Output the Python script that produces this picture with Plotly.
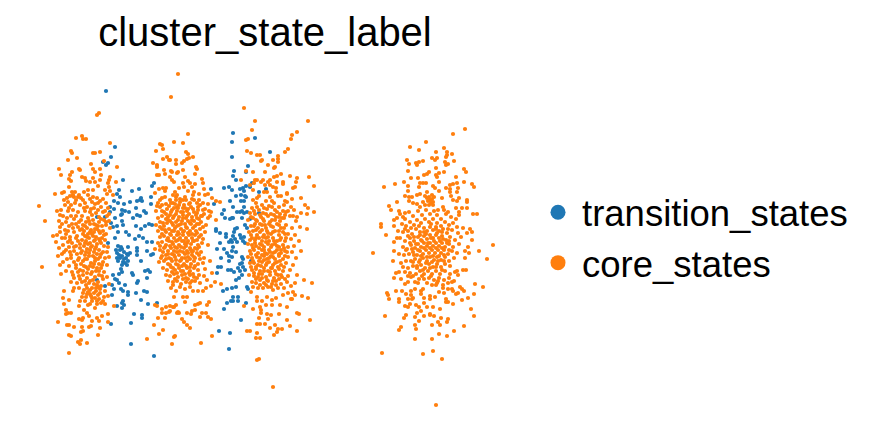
import plotly.graph_objects as go

LABELS = ["transition_states", "core_states"]
COLORS = ["#1f77b4", "#ff7f0e"]
CHART_TITLE = "cluster_state_label"

# Embedding coordinates of each cell, grouped by state and by lobe of the embedding.
transition_left = [(106,91),(115,147),(111,157),(103,162),(108,163),(106,165),(123,180),(119,190),(117,194),(120,197),(132,191),(139,189),(154,183),(152,186),(151,197),(151,204),(130,202),(124,204),(118,203),(114,201),(137,201),(140,200),(142,201),(141,198),(136,208),(144,211),(129,212),(125,211),(122,210),(110,207),(110,212),(114,209),(137,215),(140,216),(146,213),(133,218),(122,214),(121,215),(115,218),(105,217),(122,221),(111,223),(123,225),(117,226),(136,226),(145,226),(149,224),(152,225),(141,229),(113,227),(97,217),(118,232),(126,232),(129,235),(115,238),(108,243),(135,239),(139,236),(143,238),(147,242),(152,242),(118,246),(128,247),(122,249),(137,248),(137,251),(147,251),(153,254),(151,255),(117,253),(119,255),(127,254),(130,253),(128,255),(137,255),(117,258),(120,258),(128,261),(141,261),(123,262),(125,263),(122,265),(127,265),(121,269),(122,272),(145,271),(148,270),(150,272),(132,273),(133,275),(113,275),(119,274),(115,279),(147,278),(117,280),(138,281),(137,283),(97,280),(119,283),(125,285),(105,286),(112,285),(114,289),(121,289),(123,291),(144,291),(128,292),(136,293),(147,292),(112,295),(128,295),(141,300),(148,304),(157,303),(123,301),(122,303),(124,305),(117,306),(122,308),(134,314),(142,315),(142,318),(111,324),(131,323),(131,344),(154,356),(120,250),(122,256),(124,252),(118,261),(126,258),(116,250),(121,247),(124,259)]
transition_mid = [(233,133),(232,142),(255,138),(232,157),(270,152),(248,166),(234,171),(233,176),(246,172),(236,180),(252,183),(246,186),(250,187),(243,188),(240,189),(244,191),(211,189),(224,188),(229,187),(232,190),(236,196),(241,195),(245,196),(246,197),(259,192),(266,189),(214,204),(230,201),(241,201),(244,201),(233,207),(244,207),(224,210),(222,214),(237,212),(240,212),(242,211),(247,212),(244,213),(259,213),(225,218),(230,219),(232,218),(233,218),(242,218),(250,219),(245,225),(237,228),(235,229),(247,228),(216,229),(216,231),(220,233),(234,232),(226,237),(240,235),(244,237),(231,240),(229,242),(220,243),(232,242),(237,242),(245,243),(233,247),(217,249),(224,249),(232,251),(236,252),(227,253),(229,256),(232,257),(221,258),(242,257),(243,259),(229,261),(251,261),(240,264),(221,267),(218,267),(243,267),(245,270),(228,270),(231,270),(234,272),(217,273),(242,275),(239,278),(236,280),(247,287),(248,289),(236,287),(227,289),(232,288),(223,291),(233,297),(238,297),(233,301),(238,301),(231,301),(227,303),(246,303),(224,309),(241,320),(219,331),(230,333),(229,349),(241,238),(243,241),(226,234),(233,236),(235,239),(238,268),(240,271),(242,263)]

core_left = [(178,74),(171,97),(97,115),(99,113),(82,136),(76,138),(83,139),(86,139),(110,143),(71,151),(72,153),(93,153),(95,153),(100,152),(68,160),(77,158),(104,161),(91,164),(117,167),(59,169),(79,169),(80,170),(93,169),(100,169),(72,172),(70,175),(61,175),(95,172),(101,175),(82,177),(69,179),(71,181),(85,178),(86,181),(93,178),(90,182),(100,180),(95,182),(110,177),(109,180),(108,183),(116,182),(69,187),(98,186),(93,190),(88,190),(84,192),(72,192),(75,192),(64,192),(55,194),(79,195),(73,196),(74,197),(105,190),(109,187),(110,191),(107,194),(113,195),(39,206),(45,221),(53,236),(42,267),(58,322),(69,353),(87,343),(98,335),(100,328),(108,314),(108,322),(102,316),(69,335),(71,336),(78,342),(80,344),(81,340),(67,325),(69,325),(74,327),(82,327),(81,332),(83,331),(89,327),(91,326),(79,319),(82,320),(83,318),(92,321),(97,318),(99,321),(66,310),(66,314),(68,313),(71,313),(84,310),(87,313),(89,316),(79,306),(88,305),(90,304),(95,308),(97,304),(101,303),(105,304),(114,306),(63,298),(69,300),(64,304),(80,301),(82,297),(64,291),(73,291),(79,288),
(57,211),(62,193),(67,198),(65,205),(61,210),(70,196),(73,195),(78,197),(71,205),(68,211),(75,203),(80,205),(83,200),(88,195),(93,197),(97,198),(98,203),(92,202),(87,207),(94,208),(90,212),(103,199),(106,203),(101,207),(108,208),(63,216),(59,221),(66,222),(71,216),(74,219),(78,212),(82,216),(85,211),(88,218),(92,215),(96,213),(99,217),(103,212),(107,216),(104,220),(109,221),(60,227),(65,230),(69,226),(73,228),(76,224),(79,222),(83,225),(86,222),(90,224),(93,220),(96,225),(99,222),(102,226),(106,225),(110,228),(57,235),(62,238),(66,234),(70,237),(74,232),(77,236),(80,230),(84,231),(87,228),(88,234),(91,230),(94,232),(97,229),(100,233),(103,231),(106,234),(93,236),(89,238),(85,236),(96,237),(99,239),(102,238),(105,240),(82,240),(78,241),(72,243),(68,242),(63,245),(59,248),(56,242),(86,241),(90,243),(94,241),(97,244),(101,243),(104,246),(108,247),(76,246),(80,248),(84,246),(87,249),(91,247),(95,249),(99,250),(103,252),(107,252),(66,250),(70,252),(74,251),(62,254),(58,256),(77,254),(81,253),(85,255),(89,253),(93,256),(97,254),(100,257),(105,258),(109,257),(63,262),(67,259),(71,258),(60,265),(69,266),(74,262),(78,260),(83,261),(87,259),(91,263),(95,261),(99,264),(103,262),(107,265),(72,272),(76,268),(80,270),(84,266),(88,269),(93,267),(96,271),(101,268),(104,272),(66,271),(61,274),(74,278),(79,276),(83,275),(87,278),(91,274),(95,277),(99,275),(103,279),(107,277),(71,282),(77,283),(82,282),(86,285),(90,281),(94,284),(98,282),(101,286),(105,291),(109,284),(74,288),(84,290),(88,292),(92,288),(96,291),(100,293),(104,297),(86,297),(91,296),(95,298),(99,299),(103,301),(92,301),(85,301),(108,296),(96,288),(90,294),(98,287)]
core_left_dense = [(64,200),(68,202),(76,200),(81,198),(85,203),(90,199),(95,204),(100,201),(105,211),(109,214),(69,208),(73,210),(84,208),(91,209),(98,210),(60,215),(67,218),(76,216),(81,220),(85,226),(89,221),(94,224),(98,226),(101,219),(106,222),(62,224),(68,231),(72,224),(78,227),(82,229),(90,232),(95,229),(99,231),(104,235),(92,234),(87,237),(83,234),(95,240),(100,241),(76,238),(70,240),(65,238),(60,232),(88,244),(92,246),(96,247),(85,243),(80,244),(74,247),(69,247),(82,251),(86,252),(90,250),(94,252),(101,254),(64,252),(71,255),(79,258),(85,259),(89,256),(95,258),(98,259),(102,265),(76,265),(81,264),(86,267),(90,266),(94,264),(97,268),(78,272),(83,271),(87,273),(92,272),(99,271),(102,276),(73,275),(80,279),(85,281),(89,283),(93,280),(97,285),(100,289),(87,288),(83,293),(90,290),(94,293),(98,295),(87,294),(92,298),(97,301)]

core_mid = [(147,339),(154,325),(159,334),(163,330),(175,336),(172,344),(158,318),(165,318),(162,313),(166,313),(169,312),(162,309),(166,307),(170,306),(174,307),(178,312),(155,305),(157,306),(160,144),(162,145),(174,142),(163,149),(156,151),(167,157),(163,159),(169,160),(176,160),(153,163),(157,165),(157,167),(176,164),(164,170),(171,171),(178,172),(157,175),(159,175),(165,174),(170,177),(172,180),(174,182),(159,189),(163,188),(166,188),(165,191),(155,193),(179,188),(175,192),(173,195),(177,195),
(188,134),(183,143),(186,152),(188,154),(189,158),(193,157),(184,161),(187,159),(182,163),(170,160),(196,167),(197,169),(183,170),(177,173),(172,172),(195,174),(185,177),(202,179),(203,183),(183,183),(188,181),(190,183),(195,184),(184,187),(192,187),(204,189),(194,192),(188,191),(199,194),(205,195),(208,194),(193,195),(185,197),(212,198),(216,201),(220,202),(208,204),(199,200),(194,200),(183,200),(176,197),(180,202),(190,203),(198,207),(203,210),(209,211),(211,212),(216,220),(202,216),(197,213),(208,218),(185,208),(177,207),(173,203),
(211,319),(208,317),(206,313),(202,313),(200,317),(195,310),(192,311),(187,313),(191,314),(182,319),(184,322),(187,325),(190,328),(179,313),(177,313),(170,311),(173,307),(176,305),(185,302),(187,297),(183,297),(174,297),(198,304),(200,303),(207,305),(209,302),(195,305),(193,291),(198,291),(203,291),(206,288),(211,286),(215,282),(221,284),(190,287),(185,289),(180,287),(176,291),(171,288),(173,285),(201,343),(212,336),(174,337),
(158,203),(162,198),(166,204),(170,200),(156,211),(160,207),(164,212),(169,206),(172,210),(175,204),(178,208),(181,212),(184,205),(187,211),(191,207),(194,212),(200,205),(205,209),(158,218),(162,216),(166,219),(170,215),(173,218),(176,214),(179,217),(183,215),(186,218),(189,214),(192,217),(196,215),(199,219),(204,214),(210,216),(156,225),(160,222),(164,226),(167,223),(170,221),(173,225),(176,222),(179,225),(182,221),(185,224),(188,221),(191,224),(194,221),(197,224),(201,222),(206,225),(158,231),(162,229),(166,232),(169,229),(172,231),(175,228),(178,232),(181,229),(184,231),(187,228),(190,231),(193,228),(196,231),(200,229),(205,232),(160,237),(164,236),(168,238),(171,235),(174,238),(177,235),(180,238),(183,235),(186,238),(189,235),(192,238),(195,235),(199,237),(203,239),(158,243),(162,242),(166,245),(169,241),(173,244),(176,241),(179,245),(182,241),(185,244),(188,241),(191,244),(194,241),(198,245),(202,243),(208,245),(155,249),(160,250),(164,248),(168,251),(171,248),(174,251),(177,248),(180,251),(184,248),(187,251),(190,248),(193,251),(197,249),(201,252),(162,256),(166,255),(169,258),(172,254),(175,257),(179,255),(182,258),(185,254),(188,257),(192,255),(195,258),(199,255),(204,258),(159,262),(164,261),(168,264),(172,261),(176,264),(180,261),(184,264),(187,261),(191,264),(194,261),(198,264),(203,263),(210,261),(163,268),(167,270),(171,267),(175,270),(179,268),(183,271),(187,268),(190,271),(194,268),(198,270),(205,269),(166,275),(170,276),(174,274),(178,277),(182,275),(186,278),(190,275),(194,277),(199,275),(204,276),(212,273),(168,281),(173,282),(177,281),(181,284),(186,282),(190,283),(195,281),(200,283),(207,280)]
core_mid_dense = [(160,200),(165,197),(171,203),(176,200),(180,199),(186,200),(192,199),(197,203),(203,203),(162,205),(167,209),(174,208),(179,205),(183,208),(189,204),(193,209),(198,210),(157,206),(162,211),(166,214),(171,212),(177,211),(183,212),(188,209),(168,217),(174,216),(178,220),(183,218),(187,216),(192,220),(197,218),(201,216),(163,223),(168,220),(172,223),(177,226),(181,224),(186,227),(190,223),(195,226),(199,224),(203,227),(160,227),(165,230),(170,234),(174,231),(179,234),(183,232),(188,233),(192,234),(197,233),(201,235),(162,234),(167,240),(172,242),(178,240),(184,241),(187,243),(193,241),(197,240),(160,246),(165,247),(170,246),(175,247),(181,247),(186,246),(191,250),(195,248),(199,247),(163,252),(168,254),(174,255),(177,252),(183,252),(188,253),(192,252),(197,253),(161,258),(166,259),(171,259),(176,260),(181,260),(185,258),(190,259),(194,257),(200,259),(170,265),(173,268),(178,265),(182,266),(186,266),(190,267),(195,266),(172,272),(177,273),(181,271),(185,274),(189,273),(193,274),(175,279),(183,279),(188,279),(192,281),(197,278)]

core_right = [(244,108),(255,121),(308,121),(252,130),(297,132),(292,135),(291,139),(246,140),(248,139),(288,149),(285,152),(247,151),(251,153),(257,155),(260,155),(278,156),(278,159),(273,160),(278,162),(261,161),(262,160),(268,165),(275,167),(274,168),(246,171),(253,172),(265,172),(274,177),(277,176),(281,174),(290,176),(309,177),(297,178),(296,182),(314,186),(241,180),(255,180),(257,180),(250,185),(254,183),(261,182),(263,180),(268,182),(270,180),(265,185),(270,185),(277,182),(283,182),(283,184),(273,187),(276,188),(293,188),(295,187),(253,190),(264,192),(267,192),(276,192),(287,193),(287,194),(278,196),(281,196),(301,198),(292,199),(259,196),(257,198),(253,200),(270,197),(272,201),(285,201),(287,202),(305,205),(308,208),(314,212),(301,213),(307,214),(297,217),(293,216),(288,211),(294,210),(307,229),
(273,387),(257,360),(259,359),(247,331),(250,331),(256,338),(260,338),(257,333),(257,324),(260,324),(265,324),(270,328),(275,325),(278,329),(282,329),(277,332),(274,335),(290,326),(297,331),(310,320),(287,320),(259,318),(261,313),(267,314),(271,315),(268,319),(279,314),(297,313),(299,314),(253,309),(260,307),(261,310),(266,305),(272,305),(280,305),(287,307),(257,297),(257,301),(262,301),(267,297),(272,300),(276,298),(291,299),(292,299),(283,295),(288,293),(293,292),(295,295),(302,296),(308,298),(244,306),(251,292),(253,287),
(252,208),(256,203),(262,205),(266,201),(269,206),(274,203),(279,207),(284,205),(250,213),(255,214),(259,210),(263,213),(267,209),(271,214),(275,210),(280,214),(286,212),(291,207),(248,220),(253,218),(257,221),(261,217),(264,221),(268,216),(272,220),(276,217),(280,221),(284,218),(290,216),(296,221),(251,226),(255,224),(258,228),(262,225),(266,228),(269,224),(273,227),(277,224),(281,228),(286,225),(292,228),(300,227),(249,232),(253,231),(257,235),(260,232),(264,235),(267,231),(271,234),(275,231),(279,235),(283,232),(288,234),(295,235),(252,238),(255,240),(259,238),(262,241),(266,238),(269,241),(273,238),(277,241),(281,238),(285,241),(291,239),(299,241),(248,244),(252,245),(256,246),(260,244),(264,247),(268,244),(271,247),(275,244),(279,247),(283,245),(288,247),(294,246),(250,251),(254,250),(258,253),(262,250),(265,253),(269,250),(273,253),(277,250),(281,253),(285,251),(292,252),(301,251),(248,257),(252,258),(256,255),(260,258),(264,256),(267,259),(271,256),(275,259),(279,256),(283,259),(288,257),(296,258),(250,263),(254,263),(258,265),(262,262),(266,265),(269,262),(273,265),(277,262),(281,265),(286,263),(293,265),(252,270),(256,269),(260,271),(264,268),(268,271),(271,268),(275,271),(279,269),(283,271),(290,270),(249,275),(254,276),(258,277),(262,274),(266,277),(270,275),(274,278),(278,275),(282,277),(288,276),(297,275),(252,282),(256,283),(260,280),(264,283),(268,281),(272,284),(276,281),(281,284),(287,282),(295,283),(258,288),(263,288),(268,287),(273,290),(278,288),(284,288),(291,286),(304,280),(312,283)]
core_right_dense = [(257,207),(264,208),(272,207),(277,212),(283,211),(254,211),(260,215),(266,214),(274,215),(279,217),(285,215),(251,217),(256,220),(263,219),(270,222),(275,220),(282,218),(254,226),(260,224),(265,225),(271,226),(279,225),(284,228),(256,230),(262,230),(268,233),(273,232),(279,231),(285,234),(251,235),(256,238),(263,237),(268,237),(274,241),(280,240),(286,238),(250,240),(255,243),(262,245),(266,242),(272,245),(277,246),(284,248),(253,248),(259,248),(264,250),(270,252),(275,252),(281,250),(287,252),(251,254),(257,257),(262,255),(267,254),(273,257),(279,254),(285,256),(253,261),(259,261),(264,260),(269,258),(275,263),(280,261),(251,267),(256,267),(261,266),(267,263),(272,268),(278,267),(284,267),(254,273),(259,274),(264,271),(270,272),(276,274),(281,275),(256,279),(262,278),(267,280),(273,281),(279,279),(285,279),(260,285),(266,285),(271,287),(276,285)]

core_far = [(465,129),(453,134),(426,142),(410,147),(419,150),(444,148),(436,152),(447,152),(447,155),(452,154),(432,158),(437,158),(435,160),(446,157),(407,160),(409,164),(416,163),(419,162),(423,161),(417,165),(445,162),(448,164),(446,165),(454,161),(408,171),(436,168),(439,173),(444,172),(464,169),(466,172),(424,175),(427,174),(429,172),(436,175),(437,177),(411,178),(418,178),(456,177),(404,182),(395,184),(384,187),(420,183),(423,183),(426,183),(439,182),(419,187),(433,186),(435,188),(450,185),(453,184),(457,183),(464,182),(472,184),(474,187),(408,186),(408,191),(439,191),(446,188),(450,189),(458,188),(457,192),(450,192),(405,196),(409,197),(412,197),(417,195),(420,194),(427,192),(432,195),(425,196),(429,197),(430,200),(432,199),(428,201),(431,203),(433,202),(427,198),(434,197),(429,205),(433,205),(442,198),(451,196),(453,200),(459,198),(457,201),(467,200),(467,202),(397,202),(389,206),(391,210),(399,211),(409,201),(413,203),(417,204),(423,202),(420,207),(425,205),(456,208),(462,208),(467,208),(459,212),(459,215),(473,214),(477,214),(443,207),(444,210),(448,212),(438,210),(405,213),(403,217),(394,220),(397,218),(381,224),(381,227),(386,235),(394,226),(470,229),(472,232),(467,233),(472,240),(463,228),(458,233),(479,251),(493,245),(487,259),(373,253),(468,247),(465,251),(469,253),(465,258),(394,242),(397,238),(394,251),(393,261),(401,263),
(436,405),(442,359),(423,354),(433,351),(382,353),(415,339),(432,339),(439,334),(447,336),(454,331),(464,326),(399,330),(401,327),(416,329),(415,325),(432,325),(440,325),(447,322),(438,322),(419,321),(404,318),(406,315),(415,317),(417,313),(424,316),(430,314),(430,315),(434,316),(441,318),(448,319),(385,316),(474,316),(471,309),(440,309),(421,311),(427,307),(433,307),(419,307),(416,305),(405,306),(408,307),(410,304),(399,299),(399,302),(389,299),(387,293),(388,295),(396,291),(402,291),(406,294),(411,295),(412,299),(413,298),(408,299),(424,298),(424,303),(430,296),(430,299),(435,297),(446,299),(448,302),(446,302),(453,304),(462,300),(468,298),(474,294),(456,294),(458,293),(464,291),(453,291),(452,289),(448,289),(444,293),(439,292),(421,294),(421,291),(423,289),(415,289),(411,291),(483,287),(475,284),(460,287),(462,289),(394,278),(401,279),(405,284),(408,282),(396,273),(399,272),(408,276),(413,276),(415,282),(418,283),(427,283),(432,285),(436,285),(437,283),(443,285),(443,288),(448,283),(452,282),(454,281),(458,275),(463,270),(466,270),(455,272),(457,271),
(400,214),(405,219),(409,212),(413,216),(418,211),(422,215),(426,210),(430,214),(434,211),(437,215),(441,219),(446,214),(451,217),(456,219),(402,224),(406,226),(410,222),(414,225),(417,220),(421,223),(425,219),(429,222),(433,219),(437,223),(441,226),(445,222),(449,225),(453,223),(398,231),(403,232),(408,231),(412,234),(416,229),(420,232),(424,228),(427,231),(430,227),(433,230),(436,227),(439,231),(443,229),(447,233),(452,230),(457,227),(400,238),(405,241),(410,238),(414,241),(418,237),(421,240),(424,236),(427,239),(430,235),(433,238),(436,235),(439,238),(442,236),(446,240),(450,237),(455,240),(461,237),(403,247),(407,249),(411,245),(415,248),(418,244),(421,247),(424,243),(427,246),(430,243),(433,246),(436,243),(439,246),(442,243),(445,247),(449,244),(453,247),(459,244),(399,254),(404,255),(409,254),(413,252),(417,255),(420,251),(423,254),(426,250),(429,253),(432,250),(435,253),(438,250),(441,253),(444,250),(448,254),(452,251),(457,253),(406,261),(411,261),(415,259),(419,262),(423,258),(427,261),(430,257),(434,260),(437,257),(441,260),(445,257),(449,261),(454,258),(403,267),(408,268),(413,266),(417,268),(421,265),(425,268),(429,264),(433,267),(437,264),(441,267),(445,264),(450,266),(410,273),(416,274),(420,271),(424,274),(428,271),(432,274),(436,271),(440,274),(445,271),(450,274),(419,279),(424,279),(429,278),(434,280),(439,278),(444,280),(449,278)]
core_far_dense = [(405,229),(411,228),(419,226),(424,232),(431,224),(436,229),(442,232),(448,229),(408,236),(414,237),(420,235),(426,234),(431,238),(437,233),(443,239),(449,241),(410,243),(416,244),(422,241),(428,243),(434,241),(440,241),(447,243),(406,250),(412,249),(418,250),(424,248),(430,248),(436,248),(442,248),(449,250),(414,255),(421,256),(427,257),(433,256),(439,256),(444,255),(413,262),(420,260),(426,263),(432,262),(438,261),(444,261),(417,266),(423,270),(430,268),(436,267),(442,270),(422,276),(431,276),(438,281),(405,272),(411,277)]


def xs(points):
    return [p[0] for p in points]


def ys(points):
    return [p[1] for p in points]


transition = transition_left + transition_mid
core = (core_left + core_left_dense + core_mid + core_mid_dense
        + core_right + core_right_dense + core_far + core_far_dense)

fig = go.Figure()

# Cell markers, without legend entries.
for label, color, pts in zip(LABELS, COLORS, [transition, core]):
    fig.add_trace(go.Scatter(x=xs(pts), y=ys(pts), mode="markers", name=label,
                             showlegend=False, hoverinfo="skip",
                             marker=dict(color=color, size=4.2, line=dict(width=0))))

# Empty traces supply the enlarged legend keys.
for label, color in zip(LABELS, COLORS):
    fig.add_trace(go.Scatter(x=[None], y=[None], mode="markers", name=label,
                             marker=dict(color=color, size=15, line=dict(width=0))))

fig.update_layout(
    width=880, height=438, margin=dict(l=0, r=0, t=0, b=0),
    paper_bgcolor="white", plot_bgcolor="white",
    font=dict(family="Liberation Sans, Arial, sans-serif", color="black"),
    title=dict(text=CHART_TITLE, font=dict(size=40), x=265 / 880, xanchor="center",
               y=1 - 32 / 438, yanchor="middle"),
    xaxis=dict(range=[0, 880], visible=False, fixedrange=True),
    yaxis=dict(range=[438, 0], visible=False, fixedrange=True),
    legend=dict(x=534 / 880, xanchor="left", y=1 - 182 / 438, yanchor="top",
                font=dict(size=36.5), bgcolor="rgba(0,0,0,0)", borderwidth=0,
                itemsizing="trace", itemwidth=38),
)

fig.write_html("out.html")
